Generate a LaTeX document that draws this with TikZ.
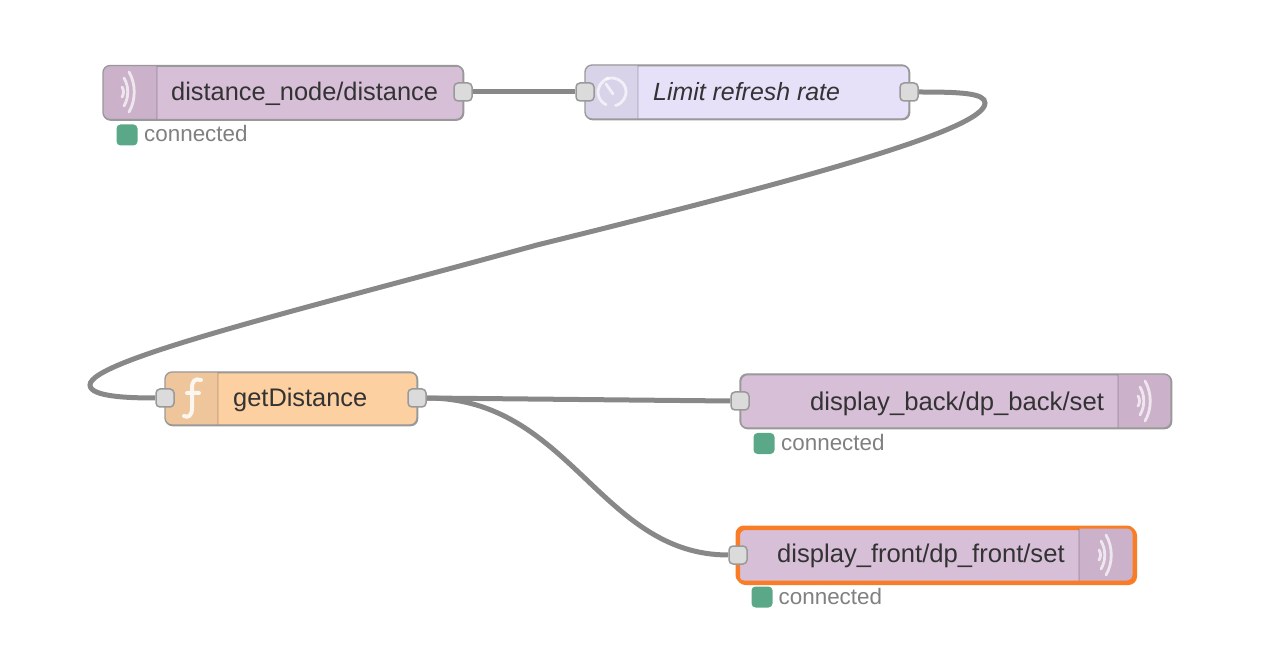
\documentclass[tikz,border=0pt]{standalone}
\usepackage{fontspec}
\setmainfont{Liberation Sans}
\definecolor{plum}{HTML}{D8BFD8}
\definecolor{plumdark}{HTML}{CBB1C9}
\definecolor{lav}{HTML}{E6E0F8}
\definecolor{lavdark}{HTML}{D9D3EA}
\definecolor{peach}{HTML}{FDD0A2}
\definecolor{peachdark}{HTML}{EFC59C}
\definecolor{wire}{HTML}{888888}
\definecolor{edge}{HTML}{999999}
\definecolor{okgreen}{HTML}{5AA888}
\definecolor{hilite}{HTML}{F97C27}
\definecolor{ink}{HTML}{333333}
\newcommand{\waves}[2]{%
  \begin{scope}[shift={(#1,#2)},white,opacity=.7,line width=2.8pt,line cap=round]
    \draw (-6,-5) .. controls (-4,-2) and (-4,2) .. (-6,5);
    \draw (-4,-14) .. controls (1,-6) and (1,6) .. (-4,14);
    \draw (1,-20) .. controls (8,-8) and (8,8) .. (1,20);
  \end{scope}}
\tikzset{
  flowbox/.style={draw=edge,line width=1.3pt,rounded corners=7pt,inner sep=0pt,anchor=north west},
  portbox/.style={draw=edge,fill=black!14,line width=1.5pt,rounded corners=4pt,minimum width=18pt,minimum height=18pt,inner sep=0pt},
  link/.style={draw=wire,line width=5pt},
  divider/.style={black,opacity=.1,line width=1.2pt},
  title/.style={anchor=base west,inner sep=0pt,text=ink,font=\fontsize{25.4pt}{30pt}\selectfont},
  dot/.style={fill=okgreen,rounded corners=4pt,minimum width=21pt,minimum height=21pt,inner sep=0pt},
  stat/.style={anchor=base west,inner sep=0pt,text=black!50,font=\fontsize{22.4pt}{26pt}\selectfont},
}
\begin{document}
\begin{tikzpicture}[x=1pt,y=-1pt]
\useasboundingbox (0,0) rectangle (1270,668);
% boxes
\node[flowbox,fill=plum,minimum width=360pt,minimum height=54pt] (n1) at (103,65.5) {};
\node[flowbox,fill=lav,minimum width=324pt,minimum height=54pt] (n2) at (585,65) {};
\node[flowbox,fill=peach,minimum width=252pt,minimum height=53pt] (n3) at (165,372) {};
\node[flowbox,fill=plum,minimum width=431pt,minimum height=54pt] (n4) at (740,374) {};
\node[flowbox,draw=hilite,line width=3pt,fill=plum,minimum width=397pt,minimum height=55pt] (n5) at (737,527) {};
% icon panels
\begin{scope}
  \clip[rounded corners=7pt] (103,65.5) rectangle (463,119.5);
  \fill[plumdark] (103,65.5) rectangle (157,119.5);
  \draw[divider] (157,65.5) -- (157,119.5);
\end{scope}
\begin{scope}
  \clip[rounded corners=7pt] (585,65) rectangle (909,119);
  \fill[lavdark] (585,65) rectangle (638,119);
  \draw[divider] (638,65) -- (638,119);
\end{scope}
\begin{scope}
  \clip[rounded corners=7pt] (165,372) rectangle (417,425);
  \fill[peachdark] (165,372) rectangle (218,425);
  \draw[divider] (218,372) -- (218,425);
\end{scope}
\begin{scope}
  \clip[rounded corners=7pt] (740,374) rectangle (1171,428);
  \fill[plumdark] (1118,374) rectangle (1171,428);
  \draw[divider] (1118,374) -- (1118,428);
\end{scope}
\begin{scope}
  \clip[rounded corners=7pt] (737,527) rectangle (1134,582);
  \fill[plumdark] (1079,527) rectangle (1134,582);
  \draw[divider] (1079,527) -- (1079,582);
\end{scope}
\draw[edge,line width=1.3pt,rounded corners=7pt] (103,65.5) rectangle (463,119.5);
\draw[edge,line width=1.3pt,rounded corners=7pt] (585,65) rectangle (909,119);
\draw[edge,line width=1.3pt,rounded corners=7pt] (165,372) rectangle (417,425);
\draw[edge,line width=1.3pt,rounded corners=7pt] (740,374) rectangle (1171,428);
\draw[hilite,line width=3pt,rounded corners=7pt] (737,527) rectangle (1134,582);
% icons
\waves{128}{92}
\waves{1144}{401}
\waves{1105}{555}
\begin{scope}[white,opacity=.65,line width=2.8pt,line cap=round]
  \draw (612,92) ++(75:14) arc[start angle=75,end angle=-245,radius=14];
  \draw (613,94) -- (606,84);
  \draw (606,79) -- (608,78);
\end{scope}
\draw[white,opacity=.85,line width=4pt,line cap=round]
  (201,380) .. controls (195,378) and (192,381) .. (192,388)
  -- (192,408) .. controls (192,416) and (188,418) .. (184,416)
  (187,393) -- (199,393);
% links
\coordinate (r1) at (985,103);
\coordinate (m1) at (537,245);
\coordinate (l1) at (90,385);
\node[portbox,draw=none,fill=none] (o1) at (463,92) {};
\node[portbox,draw=none,fill=none] (i2) at (585,92) {};
\node[portbox,draw=none,fill=none] (o2) at (909,92) {};
\node[portbox,draw=none,fill=none] (i3) at (165,398) {};
\node[portbox,draw=none,fill=none] (o3) at (417,398) {};
\node[portbox,draw=none,fill=none] (i4) at (740,401) {};
\node[portbox,draw=none,fill=none] (i5) at (738,555) {};
\draw[link] (o1.east) -- (i2.west);
\draw[link] (o2.east) .. controls (960,92) and (985,93) .. (r1)
  .. controls (985,130) and (800,180) .. (m1)
  .. controls (300,310) and (90,360) .. (l1)
  .. controls (90,397) and (130,398) .. (i3.west);
\draw[link] (o3.east) -- (i4.west);
\draw[link] (o3.east) .. controls (570,398) and (600,555) .. (i5.west);
% ports
\node[portbox] at (o1.center) {};
\node[portbox] at (i2.center) {};
\node[portbox] at (o2.center) {};
\node[portbox] at (i3.center) {};
\node[portbox] at (o3.center) {};
\node[portbox] at (i4.center) {};
\node[portbox] at (i5.center) {};
% text
\node[title] (t1) at (171,101) {distance\_node/distance};
\node[title,font=\fontsize{24.9pt}{30pt}\selectfont\itshape] (t2) at (653,101) {Limit refresh rate};
\node[title] (t3) at (233,406.5) {getDistance};
\node[title,font=\fontsize{25.65pt}{30pt}\selectfont] (t4) at (810,410) {display\_back/dp\_back/set};
\node[title,font=\fontsize{25.6pt}{30pt}\selectfont] (t5) at (777,562.5) {display\_front/dp\_front/set};
\node[dot] (d1) at (127,135) {};
\node[stat] (s1) at (144,141.5) {connected};
\node[dot] (d2) at (764,443.5) {};
\node[stat] (s2) at (781,450) {connected};
\node[dot] (d3) at (762,597) {};
\node[stat] (s3) at (778.5,604) {connected};
\end{tikzpicture}
\end{document}
